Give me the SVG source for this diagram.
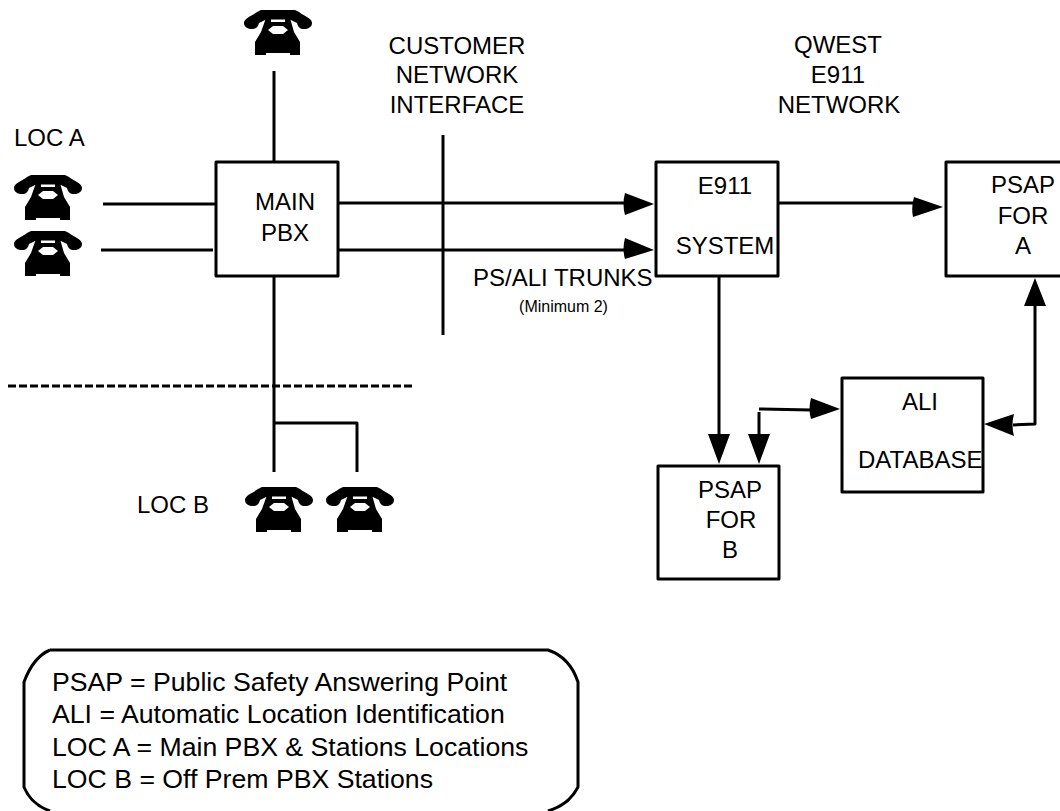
<svg xmlns="http://www.w3.org/2000/svg" width="1060" height="811" viewBox="0 0 1060 811">
<style>
text{font-family:"Liberation Sans",Arial,sans-serif;font-size:24px;fill:#000}
.box{fill:none;stroke:#000;stroke-width:3;stroke-linejoin:round}
.ln{fill:none;stroke:#000;stroke-width:3;stroke-linejoin:round}
.m{text-anchor:middle}
.leg{font-size:26.67px}
</style>
<defs>
<g id="phone">
<path d="M0 13C0 8 8 6 13 2L17 0H51L55 2C60 6 68 8 68 13C68 17 64 19 60 19C56 19 54 17 53 13L47 10H21L15 13C14 17 12 19 8 19C4 19 0 17 0 13Z"/>
<path d="M22 8H46L50 22L56 32V45H46V43H22V45H11V32L17 22Z"/>
<path fill="#fff" d="M27 9.5H41V12H27ZM29 16H39L44 20L39 24H29L24 20Z"/>
</g>
</defs>
<g id="connectors">
<path class="ln" d="M274 71V162M103 204H216M101 250H213M274 276V472M274 423H357V472"/>
<path d="M8 386H414" fill="none" stroke="#000" stroke-width="3" stroke-dasharray="8 3"/>
<path class="ln" d="M443 135V335"/>
<path class="ln" d="M338 203H624M338 250H624M778 203H914M719 276V436M759 412V436M759 409L811 410M1035 304V424L1013 425"/>
<path d="M654 204L625 193Q622 204 625 215ZM654 250L625 238Q622 249 625 259ZM943 207L914 197Q911 207 913 217ZM719 464L708 434H730ZM759 464L748 434H770ZM840 409L811 398Q808 409 811 419ZM984 424L1014 414Q1011 425 1014 436ZM1035 278L1024 306H1046Z"/>
</g>
<g id="phone-top"><use href="#phone" x="244" y="10"/></g>
<g id="phone-a1"><use href="#phone" x="14" y="175"/></g>
<g id="phone-a2"><use href="#phone" x="14" y="231"/></g>
<g id="phone-b1"><use href="#phone" x="245" y="487"/></g>
<g id="phone-b2"><use href="#phone" x="326" y="487"/></g>
<g id="main-pbx">
<rect class="box" x="216" y="162" width="122" height="114"/>
<text x="285" y="210" class="m">MAIN</text>
<text x="285" y="241" class="m">PBX</text>
</g>
<g id="e911-system">
<rect class="box" x="656" y="162" width="122" height="114"/>
<text x="725" y="194" class="m">E911</text>
<text x="725" y="254" class="m">SYSTEM</text>
</g>
<g id="psap-a">
<rect class="box" x="946" y="162" width="120" height="114"/>
<text x="1023" y="193" class="m">PSAP</text>
<text x="1023" y="224" class="m">FOR</text>
<text x="1023" y="254" class="m">A</text>
</g>
<g id="ali-database">
<text x="920" y="410" class="m">ALI</text>
<text x="858" y="468">DATABASE</text>
<rect class="box" x="842" y="378" width="141" height="114"/>
</g>
<g id="psap-b">
<rect class="box" x="658" y="466" width="121" height="113"/>
<text x="730" y="498" class="m">PSAP</text>
<text x="731" y="528" class="m">FOR</text>
<text x="730" y="558" class="m">B</text>
</g>
<g id="labels">
<text x="14" y="146">LOC A</text>
<text x="137" y="513">LOC B</text>
<text x="457" y="54" class="m">CUSTOMER</text>
<text x="457" y="83" class="m">NETWORK</text>
<text x="457" y="113" class="m">INTERFACE</text>
<text x="838" y="53" class="m">QWEST</text>
<text x="838" y="83" class="m">E911</text>
<text x="839" y="113" class="m">NETWORK</text>
<text x="473" y="286">PS/ALI TRUNKS</text>
<text x="563.500" y="312" class="m" style="font-size:16px">(Minimum 2)</text>
</g>
<g id="legend">
<path class="ln" d="M50 650H548C560 654 572 664 578 682V787C573 797 565 806 548 811M50 650C38 655 30 666 24 682V787C28 797 36 806 50 811"/>
<text class="leg" x="52" y="691">PSAP = Public Safety Answering Point</text>
<text class="leg" x="52" y="723">ALI = Automatic Location Identification</text>
<text class="leg" x="52" y="756">LOC A = Main PBX &amp; Stations Locations</text>
<text class="leg" x="52" y="788">LOC B = Off Prem PBX Stations</text>
</g>
</svg>
